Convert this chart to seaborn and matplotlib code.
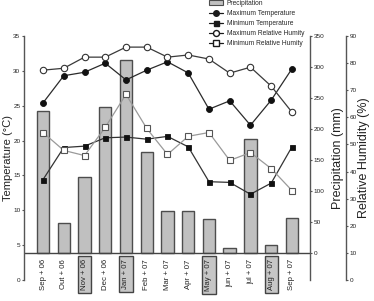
import numpy as np
import pandas as pd
import matplotlib
matplotlib.use('Agg')
import matplotlib.pyplot as plt
import seaborn as sns
from matplotlib.lines import Line2D
from matplotlib.patches import Patch

# monthly values
months = ['Sep + 06', 'Out + 06', 'Nov + 06', 'Dec + 06', 'Jan + 07', 'Feb + 07',
          'Mar + 07', 'Apr + 07', 'May + 07', 'jun + 07', 'jul + 07', 'Aug + 07', 'Sep + 07']
boxed = ['Nov + 06', 'Jan + 07', 'May + 07', 'Aug + 07']
precip = [229, 48, 123, 235, 312, 163, 68, 68, 55, 8, 184, 13, 56]          # mm
t_max = [25.4, 29.3, 29.8, 31.1, 28.7, 30.1, 31.3, 29.7, 24.5, 25.7, 22.2, 25.8, 30.3]
t_min = [14.4, 19.0, 19.2, 20.4, 20.5, 20.2, 20.6, 19.1, 14.1, 14.0, 12.3, 13.9, 19.1]
rh_max = [77.4, 78.1, 82.2, 82.2, 85.9, 85.9, 82.2, 83.0, 81.5, 76.3, 78.5, 71.5, 61.9]
rh_min = [54.4, 47.8, 45.9, 56.3, 68.5, 55.9, 46.3, 53.0, 54.4, 44.1, 47.0, 41.1, 33.0]

df = pd.DataFrame({'month': months, 'precip': precip, 't_max': t_max,
                   't_min': t_min, 'rh_max': rh_max, 'rh_min': rh_min})
df['pos'] = np.arange(len(months))

sns.set_theme(style='ticks')
plt.rcParams['font.family'] = ['Liberation Sans', 'DejaVu Sans']

fig = plt.figure(figsize=(3.74, 3.01), dpi=100)
ax_t = fig.add_axes([0.0642, 0.0698, 0.7647, 0.8106])
ax_p = ax_t.twinx()
ax_h = ax_t.twinx()
ax_p.set_zorder(1)
ax_t.set_zorder(2)
ax_h.set_zorder(3)
for a in (ax_t, ax_p, ax_h):
    a.patch.set_visible(False)

# precipitation bars (behind the lines)
sns.barplot(data=df, x='month', y='precip', order=months, ax=ax_p, color='#c0c0c0',
            edgecolor='#4d4d4d', linewidth=1, width=0.6, saturation=1)
ax_p.axhline(0, color='#444444', lw=1)

# temperatures
sns.lineplot(data=df, x='pos', y='t_max', ax=ax_t, color='#2b2b2b', lw=0.9,
             marker='o', markersize=4.3, markerfacecolor='#111111',
             markeredgecolor='#111111', markeredgewidth=0.6)
sns.lineplot(data=df, x='pos', y='t_min', ax=ax_t, color='#333333', lw=0.9,
             marker='s', markersize=3.6, markerfacecolor='#111111',
             markeredgecolor='#111111', markeredgewidth=0.6)

# relative humidity
sns.lineplot(data=df, x='pos', y='rh_max', ax=ax_h, color='#3a3a3a', lw=0.9,
             marker='o', markersize=4.6, markerfacecolor='white',
             markeredgecolor='#333333', markeredgewidth=0.8)
sns.lineplot(data=df, x='pos', y='rh_min', ax=ax_h, color='#9a9a9a', lw=0.9,
             marker='s', markersize=3.8, markerfacecolor='white',
             markeredgecolor='#555555', markeredgewidth=0.8)

ax_t.set_xlim(-0.916, 12.87)
ax_t.set_ylim(0, 35)
ax_p.set_ylim(-43.5, 350)
ax_h.set_ylim(0, 90)

ax_t.set_yticks(np.arange(0, 36, 5))
ax_p.set_yticks(np.arange(0, 351, 50))
ax_h.set_yticks(np.arange(0, 91, 10))

ax_t.set_xticks(df['pos'], months)
ax_t.tick_params(axis='x', length=0, labelsize=5.6, pad=-15, rotation=90,
                 labelcolor='#222222')
for lbl in ax_t.get_xticklabels():
    if lbl.get_text() in boxed:
        lbl.set_bbox(dict(boxstyle='square,pad=0.4', fc='#c6c6c6', ec='#444444', lw=1))

spine_c = '#555555'
for a in (ax_t, ax_p, ax_h):
    for s in a.spines.values():
        s.set_visible(False)
        s.set_color(spine_c)
        s.set_linewidth(1)
ax_t.spines['left'].set_visible(True)
ax_p.spines['right'].set_visible(True)
ax_h.spines['right'].set_visible(True)
ax_h.spines['right'].set_position(('outward', 26))

for a in (ax_t, ax_p, ax_h):
    a.tick_params(axis='y', labelsize=4.6, length=1.6, width=0.8, pad=1,
                  color=spine_c, labelcolor='#222222')

ax_t.set_xlabel('')
ax_p.set_xlabel('')
ax_h.set_xlabel('')
ax_t.set_ylabel('Temperature (°C)', fontsize=8, color='#222222')
ax_p.set_ylabel('Precipitation (mm)', fontsize=9, color='#222222')
ax_h.set_ylabel('Relative Humidity (%)', fontsize=9, color='#222222')
ax_t.yaxis.set_label_coords(-0.038, 0.5)
ax_p.yaxis.set_label_coords(1.076, 0.5)
ax_h.yaxis.set_label_coords(1.168, 0.5)

handles = [
    Patch(fc='#c0c0c0', ec='#4d4d4d', lw=0.8),
    Line2D([], [], color='k', lw=0.9, marker='o', markersize=4, mfc='k', mec='k'),
    Line2D([], [], color='k', lw=0.9, marker='s', markersize=3.6, mfc='k', mec='k'),
    Line2D([], [], color='k', lw=0.9, marker='o', markersize=4.3, mfc='white', mec='k'),
    Line2D([], [], color='k', lw=0.9, marker='s', markersize=3.8, mfc='white', mec='k'),
]
labels = ['Precipitation', 'Maximum Temperature', 'Minimum Temperature',
          'Maximum Relative Humity', 'Minimum Relative Humity']
fig.legend(handles, labels, loc='upper left', bbox_to_anchor=(0.558, 1.0),
           frameon=False, fontsize=4.8, handlelength=2.2, handletextpad=0.5,
           labelspacing=0.45, borderpad=0, borderaxespad=0)

fig.savefig('out.png', dpi=100)
